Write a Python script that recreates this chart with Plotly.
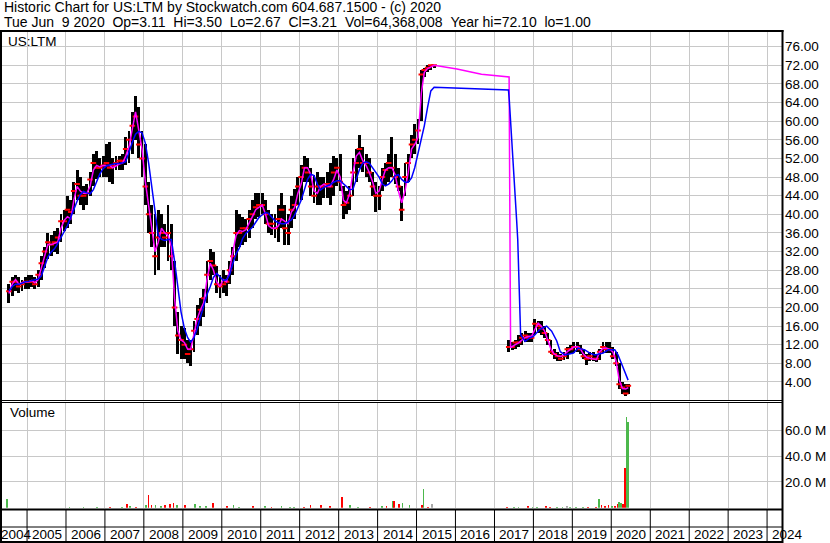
import plotly.graph_objects as go
import pandas as pd

W, H = 830, 543
FONT = "Arial, 'Liberation Sans', sans-serif"

# ---------------- data ----------------
title_line1 = "Historic Chart for US:LTM by Stockwatch.com 604.687.1500 - (c) 2020"
title_line2 = ("Tue Jun\u00a0\u00a09 2020\u00a0\u00a0Op=3.11\u00a0\u00a0Hi=3.50\u00a0\u00a0Lo=2.67\u00a0\u00a0"
               "Cl=3.21\u00a0\u00a0Vol=64,368,008\u00a0\u00a0Year hi=72.10\u00a0\u00a0lo=1.00")
symbol_label = "US:LTM"
volume_label = "Volume"

# monthly price bars, segment A (2004-07 .. 2015-06)
months_a = [str(p) for p in pd.period_range("2004-07", "2015-06", freq="M")]
low_a = [21, 22.5, 23.5, 23, 23.5, 24,
         24, 24.5, 24, 24.5, 26, 28.5, 30.5, 31, 32, 31.5, 34, 36.5,
         37, 38, 40, 43, 42, 41, 42, 44, 46, 47.5, 48, 48,
         48, 47, 46.5, 49.5, 49.5, 49.5, 50.5, 51, 53, 56, 52, 48,
         42, 36, 33, 27, 28, 33, 33, 30, 28, 16, 10, 9,
         9, 8, 7.5, 10.5, 14, 16, 18, 21, 26, 27, 23, 22,
         23, 22.5, 25, 27, 30, 33, 33.5, 34, 35, 37, 39, 39.5,
         40, 38, 36, 35.5, 35, 34, 37, 33.5, 33.5, 37, 39, 42,
         43, 47, 47, 44, 42.5, 42, 42, 43.5, 43.5, 42, 44, 46,
         45, 38.9, 40, 41, 44, 47, 50, 49, 48, 47, 44, 40.5,
         41, 45, 46, 47, 48, 46.5, 45, 38.5, 44, 47, 52, 53,
         55, 60, 69.5, 70.5, 71, 71.5]
high_a = [25, 26.5, 27, 26.5, 26, 26.5,
          27, 27, 26.5, 28, 31, 33, 36, 35.5, 36.5, 37, 40, 41,
          44, 43, 47, 49.5, 48, 46, 46.5, 49, 53, 53.5, 52, 52.5,
          55, 55.5, 52, 52.5, 52.5, 53, 56.5, 58, 62, 65.5, 63, 58,
          55, 47, 42, 40, 41, 40, 38, 42, 38, 30, 19, 16,
          15.5, 13, 13, 17, 20.5, 22, 24, 30, 32.5, 32, 29, 27,
          28, 27, 30, 33, 41, 40, 39.5, 39, 41, 43, 44.5, 44.5,
          44.5, 43, 41, 40, 40, 42, 44.5, 42, 40, 44, 45.5, 48,
          50.5, 52.5, 52, 50, 48.5, 49, 48, 48, 49, 51, 52.5, 52,
          53, 46, 45, 46, 52, 54, 57, 54.5, 53, 52, 49, 47,
          46, 50, 51, 53, 56.5, 53, 50, 46, 51, 53, 57, 59.5,
          60.5, 71, 71.5, 72.1, 72.1, 72.1]
close_a = [23.5, 25.5, 25.5, 24.5, 25, 25.5,
           25.5, 25.5, 25, 27, 29.5, 32, 34, 33.5, 34, 35, 38.5, 38.5,
           41, 40.5, 45, 46.5, 44, 44, 44.5, 47.5, 51, 50, 50, 50.5,
           51, 50, 50.5, 51, 51.5, 51.5, 54, 56, 59, 61, 55, 52,
           46, 40, 36, 31, 35, 36, 35, 36, 31, 20, 14, 13,
           12, 10, 11, 15, 17.5, 19.5, 22, 27, 30, 29, 25, 24.5,
           25, 25.5, 28, 31, 36, 36, 37, 37, 39, 40, 41.5, 42,
           42, 40, 38, 38, 37, 39, 41, 37, 36, 41, 42, 46,
           48, 50, 49, 46, 44, 46, 46, 46, 46.5, 46, 49, 50,
           47, 42, 42.5, 44, 49, 51, 54, 51, 51, 49, 46, 44,
           44, 48, 49.5, 51, 50, 48, 46, 41, 48, 51, 55, 56,
           58, 70, 71, 71.5, 72, 72]

# monthly price bars, segment B (2017-05 .. 2020-06)
months_b = [str(p) for p in pd.period_range("2017-05", "2020-06", freq="M")]
low_b = [10.5, 10.8, 11, 11.5, 12, 12.5, 12.5, 12.5,
         14, 14.5, 14, 13.5, 12, 10, 9, 8.5, 8.5, 8.7, 9, 10,
         10.3, 10.5, 10, 9, 7.6, 8.5, 8.5, 8.3, 8.7, 10.2, 10.2, 10.2,
         9, 7.5, 2.5, 1.5, 1.0, 1.5]
high_b = [13, 12.5, 13, 14, 14.5, 15, 14.5, 14.5,
          17.6, 17, 17, 16, 14.5, 13, 11, 10.5, 10, 10.5, 11.5, 12,
          12.5, 12.5, 12, 11, 10, 10.5, 10.5, 10, 11, 12.5, 12.5, 12.5,
          11.5, 10.5, 8, 4, 3.5, 3.5]
close_b = [11.5, 11.5, 12.5, 12.5, 13.5, 14, 13.5, 13.5,
           16.5, 16, 15.5, 14.5, 13, 10.5, 10, 9.5, 9, 9.5, 11, 11,
           11.5, 11.5, 11, 9.5, 9, 9.5, 9, 9, 10.5, 11.5, 11, 11,
           9.5, 8, 3.5, 2.8, 1.5, 3.21]

# short moving average (magenta)
fast_a = [23, 25, 26, 25, 25.3, 25.5,
          25.5, 25.8, 25.3, 26, 28.5, 31, 33.5, 33.5, 33.7, 34, 37, 38.7,
          39.5, 39, 43, 46, 45, 44.5, 44.5, 46, 49.5, 50.5, 50.2, 50.5,
          50.5, 50.5, 50, 50.5, 50.8, 51, 52.5, 54.5, 58, 62, 58, 54,
          47, 42, 37, 32, 34, 37, 36, 35.5, 33, 22, 15, 13,
          12.5, 11, 11, 14.5, 17.5, 19.5, 21, 26, 29.5, 28, 25.5, 24.5,
          26, 25.5, 28, 32, 35.5, 36.5, 36.3, 36.7, 38, 39.5, 41, 41.5,
          42, 40, 37.6, 37, 37, 37.5, 39, 38.5, 38, 40.5, 41.5, 44.5,
          46.5, 50, 50, 48.5, 45, 44.5, 46, 46.5, 46, 46, 47.5, 49.5,
          48, 43, 42.5, 44.5, 49, 52.5, 53.3, 51.5, 50.5, 49, 47, 44.5,
          45, 47.5, 49.5, 50, 50, 48.5, 45, 42.5, 45, 49, 54, 55,
          56.5, 66, 70.5, 71.3, 71.7, 72]
fast_b_dates = ["2016-01-15", "2016-09-01", "2017-05-18", "2017-06-01",
                "2017-07-15", "2017-08-15", "2017-09-15", "2017-10-15", "2017-11-15", "2017-12-15",
                "2018-01-15", "2018-02-15", "2018-03-15", "2018-04-15", "2018-05-15", "2018-06-15",
                "2018-07-15", "2018-08-15", "2018-09-15", "2018-10-15", "2018-11-15", "2018-12-15",
                "2019-01-15", "2019-02-15", "2019-03-15", "2019-04-15", "2019-05-15", "2019-06-15",
                "2019-07-15", "2019-08-15", "2019-09-15", "2019-10-15", "2019-11-15", "2019-12-15",
                "2020-01-15", "2020-02-15", "2020-03-15", "2020-04-15", "2020-05-15", "2020-06-09"]
fast_b = [71.2, 70.1, 69.5, 11.4,
          12, 12.4, 13, 13.5, 13.8, 13.8,
          15.3, 16.6, 16, 15, 13, 11, 10, 9.6, 9.5, 9.8, 10.5, 11,
          11.5, 11.6, 11.2, 10, 9.3, 9.1, 9, 8.8, 10.5, 11.2, 11.3, 11,
          10.5, 8.5, 4.5, 2.6, 2.5, 2.8]

# long moving average (blue)
slow_a = [23.5, 24.5, 25, 25, 25.2, 25.5,
          25.6, 25.8, 25.9, 26.1, 26.8, 28.8, 30.8, 31.9, 32.6, 33.7, 35, 36.3,
          37.6, 39.4, 41.2, 42.8, 44.2, 44.9, 44.6, 44.4, 45.3, 46.8, 48.7, 49.8,
          50.4, 50.6, 50.8, 50.9, 50.9, 51, 51.3, 53.5, 55.5, 57.2, 57.8, 57.5,
          55.3, 51, 46, 40, 35.5, 34.6, 34.4, 34.6, 34.6, 30, 24.8, 19,
          15.5, 13.5, 12.6, 13.5, 15.5, 17.8, 20.5, 22.8, 24.5, 26.5, 27.3, 26.5,
          25.8, 26, 27, 29.5, 31.5, 32.8, 34.8, 35.9, 36.5, 37.2, 38.3, 39.3,
          39.9, 40.4, 40.2, 39.5, 38.6, 38.2, 38, 38, 38.5, 38.8, 39.8, 41.2,
          43, 45.3, 47.5, 48.6, 48.3, 46.5, 45.2, 45.8, 46.1, 46.4, 46.9, 47.2,
          47.2, 46.6, 46, 45.3, 45.4, 47.6, 49.6, 51, 51.3, 51, 50, 49,
          48, 46.5, 46.1, 46.5, 47.2, 48.3, 48.5, 47.5, 46.9, 46.9, 47.8, 50,
          53, 55.8, 59, 63, 66.5, 67.3]
slow_b_dates = ["2016-06-01", "2017-05-12", "2017-05-20", "2017-06-06", "2017-06-28",
                "2017-07-14", "2017-07-27", "2017-08-07", "2017-08-20", "2017-09-03",
                "2017-10-15", "2017-12-01", "2018-01-01", "2018-03-03", "2018-05-05",
                "2018-06-21", "2018-08-08", "2018-09-10", "2018-10-23", "2019-01-12",
                "2019-02-24", "2019-04-28", "2019-06-14", "2019-08-01", "2019-10-17",
                "2019-12-02", "2020-02-03", "2020-03-04", "2020-04-05", "2020-05-05",
                "2020-06-07"]
slow_b = [67.0, 66.7, 64.5, 58.4, 51.8, 44, 39, 34.6, 21.8, 14.2,
          12.7, 13.5, 13.8, 15.3, 16, 14.9, 12.8, 10.5, 9.8, 10.2,
          11.3, 10.9, 10.2, 9.8, 10.2, 10.9, 10.9, 9.8, 8, 6.2, 4.4]

# volume (millions) and direction of the day
vol_dates = ["2004-06-25", "2006-02-03", "2006-06-14", "2006-10-19", "2007-02-17", "2007-06-07",
             "2007-07-27", "2007-08-22", "2007-10-19", "2008-01-19", "2008-02-14", "2008-03-14",
             "2008-04-20", "2008-06-13", "2008-07-19", "2008-09-05", "2008-10-04", "2008-11-06",
             "2009-01-23", "2009-04-23", "2009-06-13", "2009-08-07", "2009-10-12", "2010-02-17",
             "2010-04-20", "2010-06-13", "2010-10-23", "2011-02-10", "2011-04-12", "2011-07-16",
             "2011-10-01", "2011-11-06", "2012-02-10", "2012-04-12", "2012-07-16", "2012-10-12",
             "2013-01-30", "2013-04-17", "2013-07-02", "2013-10-23", "2014-02-10", "2014-03-26",
             "2014-05-23", "2014-06-07", "2014-07-19", "2014-08-22", "2014-10-27", "2015-02-24",
             "2015-03-07", "2015-04-20", "2015-05-27", "2017-04-28", "2017-07-02", "2017-08-15",
             "2017-11-14", "2017-12-24", "2018-02-06", "2018-04-28", "2018-06-03", "2018-08-08",
             "2018-10-01", "2018-11-10", "2018-12-13", "2019-02-06", "2019-04-12", "2019-05-27",
             "2019-08-08", "2019-09-09", "2019-10-01", "2019-11-03", "2019-12-06", "2020-01-08",
             "2020-02-06", "2020-02-28", "2020-03-14", "2020-04-01", "2020-04-20", "2020-05-08",
             "2020-05-22", "2020-06-06"]
vol_millions = [6.7, 0.8, 0.8, 0.8, 0.8, 0.8,
                2.8, 1.3, 0.8, 2.0, 9.8, 2.0,
                2.0, 1.5, 2.0, 2.8, 3.4, 2.0,
                2.0, 2.6, 1.3, 1.3, 3.4, 1.3,
                2.0, 0.8, 1.3, 1.3, 0.8, 1.3,
                0.8, 0.8, 0.8, 2.0, 2.0, 1.3,
                8.3, 2.0, 0.8, 0.8, 1.3, 1.3,
                5.2, 5.2, 2.8, 3.6, 2.0, 2.0,
                14.2, 0.8, 2.6, 0.5, 0.5, 0.5,
                1.3, 0.5, 0.5, 1.3, 0.8, 0.8,
                0.8, 1.5, 0.5, 0.5, 0.5, 0.8,
                0.8, 6.7, 1.8, 1.3, 2.0, 1.3,
                1.3, 2.6, 4.4, 3.9, 2.8, 30.7,
                70.4, 66.3]
vol_dir = ["u", "u", "u", "u", "d", "u",
           "d", "u", "d", "u", "d", "d",
           "u", "u", "d", "d", "d", "u",
           "d", "u", "u", "u", "d", "d",
           "u", "u", "d", "u", "d", "u",
           "u", "u", "d", "d", "d", "d",
           "d", "u", "u", "d", "u", "d",
           "u", "d", "d", "u", "u", "d",
           "u", "d", "f", "d", "u", "u",
           "d", "u", "u", "d", "d", "u",
           "u", "f", "u", "u", "u", "d",
           "d", "u", "d", "d", "d", "u",
           "d", "d", "u", "u", "d", "d",
           "u", "u"]

price_ticks = [4, 8, 12, 16, 20, 24, 28, 32, 36, 40, 44, 48, 52, 56, 60, 64, 68, 72, 76]
volume_ticks = [20, 40, 60]
volume_tick_text = ["20.0 M", "40.0 M", "60.0 M"]
years = list(range(2004, 2025))

# ---------------- helpers ----------------
def fx(px):
    return px / W

def fy(py):
    return 1 - py / H

DAY = 86400000
bar_x = [m + "-15" for m in months_a] + [m + "-15" for m in months_b]
bar_x[-1] = "2020-06-09"
bar_low = low_a + low_b
bar_high = high_a + high_b
bar_close = close_a + close_b
fast_x = [m + "-15" for m in months_a] + fast_b_dates
fast_y = fast_a + fast_b
slow_x = [m + "-15" for m in months_a] + slow_b_dates
slow_y = slow_a + slow_b
dir_color = {"u": "#4cb84c", "d": "#ff0000", "f": "#a8a8a8"}

fig = go.Figure()

fig.add_trace(go.Bar(
    x=bar_x, y=[h - l for h, l in zip(bar_high, bar_low)], base=bar_low,
    width=27 * DAY, marker=dict(color="black", line=dict(width=0)),
    xaxis="x", yaxis="y", hoverinfo="skip"))
fig.add_trace(go.Scatter(
    x=bar_x, y=bar_close, mode="markers",
    marker=dict(symbol="line-ew", size=4, line=dict(color="#ff0000", width=2)),
    xaxis="x", yaxis="y", hoverinfo="skip"))
fig.add_trace(go.Scatter(
    x=fast_x, y=fast_y, mode="lines", line=dict(color="#ff00ff", width=1.5),
    xaxis="x", yaxis="y", hoverinfo="skip"))
fig.add_trace(go.Scatter(
    x=slow_x, y=slow_y, mode="lines", line=dict(color="#0000ff", width=1.5),
    xaxis="x", yaxis="y", hoverinfo="skip"))
fig.add_trace(go.Bar(
    x=vol_dates, y=[v * 1e6 for v in vol_millions],
    width=16 * DAY, marker=dict(color=[dir_color[d] for d in vol_dir], line=dict(width=0)),
    xaxis="x2", yaxis="y2", hoverinfo="skip"))

x_start, x_end = "2004-05-11", "2024-05-20"
year_bounds = [f"{y}-01-01" for y in years[1:]]
grid = "#c8c8c8"
tickfont = dict(family=FONT, size=13.5, color="#000000")

fig.update_layout(
    width=W, height=H, margin=dict(l=0, r=0, t=0, b=0, pad=0),
    paper_bgcolor="white", plot_bgcolor="white",
    showlegend=False, bargap=0, barmode="overlay",
    font=dict(family=FONT, size=13, color="black"),
    xaxis=dict(domain=[fx(2), fx(782)], range=[x_start, x_end], type="date",
               tickmode="array", tickvals=year_bounds, showticklabels=False,
               showgrid=True, gridcolor=grid, gridwidth=1, zeroline=False,
               showline=False, ticks="", anchor="y", fixedrange=True),
    xaxis2=dict(domain=[fx(2), fx(782)], range=[x_start, x_end], type="date",
                matches="x", tickmode="array", tickvals=year_bounds, showticklabels=False,
                showgrid=True, gridcolor=grid, gridwidth=1, zeroline=False,
                showline=False, ticks="", anchor="y2"),
    yaxis=dict(domain=[fy(400.6), fy(32)], range=[0, 79.15], side="right",
               tickmode="array", tickvals=price_ticks,
               ticktext=[f"{t:.2f}" for t in price_ticks],
               showgrid=True, gridcolor=grid, gridwidth=1, zeroline=False,
               showline=False, ticks="", tickfont=tickfont, anchor="x",
               ticklabelstandoff=2),
    yaxis2=dict(domain=[fy(507.7), fy(403)], range=[0, 81.2e6], side="right",
                tickmode="array", tickvals=[v * 1e6 for v in volume_ticks],
                ticktext=volume_tick_text,
                showgrid=True, gridcolor=grid, gridwidth=1, zeroline=False,
                showline=False, ticks="", tickfont=tickfont, anchor="x2",
                ticklabelstandoff=2),
)

shapes = []
def hline(py, x0, x1, w):
    shapes.append(dict(type="line", xref="paper", yref="paper", x0=fx(x0), x1=fx(x1),
                       y0=fy(py), y1=fy(py), line=dict(color="black", width=w)))
def vline(px, y0, y1, w):
    shapes.append(dict(type="line", xref="paper", yref="paper", x0=fx(px), x1=fx(px),
                       y0=fy(y0), y1=fy(y1), line=dict(color="black", width=w)))

hline(31, 0, 783.5, 2)
hline(400.5, 0, 782, 1)
hline(402.5, 0, 782, 1)
hline(509.5, 0, 782, 2)
hline(527, 0, 782, 1)
hline(542, 0, 782, 2)
vline(1, 30, 543, 2)
vline(782.5, 30, 543, 2)
for yb in year_bounds:
    shapes.append(dict(type="line", xref="x", yref="paper", x0=yb, x1=yb,
                       y0=fy(541), y1=fy(510), line=dict(color="black", width=1)))
fig.update_layout(shapes=shapes)

ann = []
title_font = dict(family=FONT, size=14, color="black")
label_font = dict(family=FONT, size=13.5, color="black")
ann.append(dict(text=title_line1, x=fx(1.5), y=fy(6.5), xref="paper", yref="paper",
                xanchor="left", yanchor="middle", showarrow=False, font=title_font))
ann.append(dict(text=title_line2, x=fx(1.5), y=fy(22.5), xref="paper", yref="paper",
                xanchor="left", yanchor="middle", showarrow=False, font=title_font))
ann.append(dict(text=symbol_label, x=fx(6), y=fy(41), xref="paper", yref="paper",
                xanchor="left", yanchor="middle", showarrow=False, font=label_font))
ann.append(dict(text=volume_label, x=fx(8), y=fy(413), xref="paper", yref="paper",
                xanchor="left", yanchor="middle", showarrow=False, font=label_font))
for yr in years:
    if yr == years[0]:
        ann.append(dict(text=str(yr), x=fx(-1.5), y=fy(534.5), xref="paper", yref="paper",
                        xanchor="left", yanchor="middle", showarrow=False, font=label_font))
    else:
        ann.append(dict(text=str(yr), x=f"{yr}-01-01", y=fy(534.5), xref="x", yref="paper",
                        xanchor="left", yanchor="middle", xshift=3, showarrow=False,
                        font=label_font))
fig.update_layout(annotations=ann)

fig.write_html("out.html",
               config={"displayModeBar": False, "staticPlot": True},
               post_script="document.body.style.margin='0';document.body.style.overflow='hidden';")
